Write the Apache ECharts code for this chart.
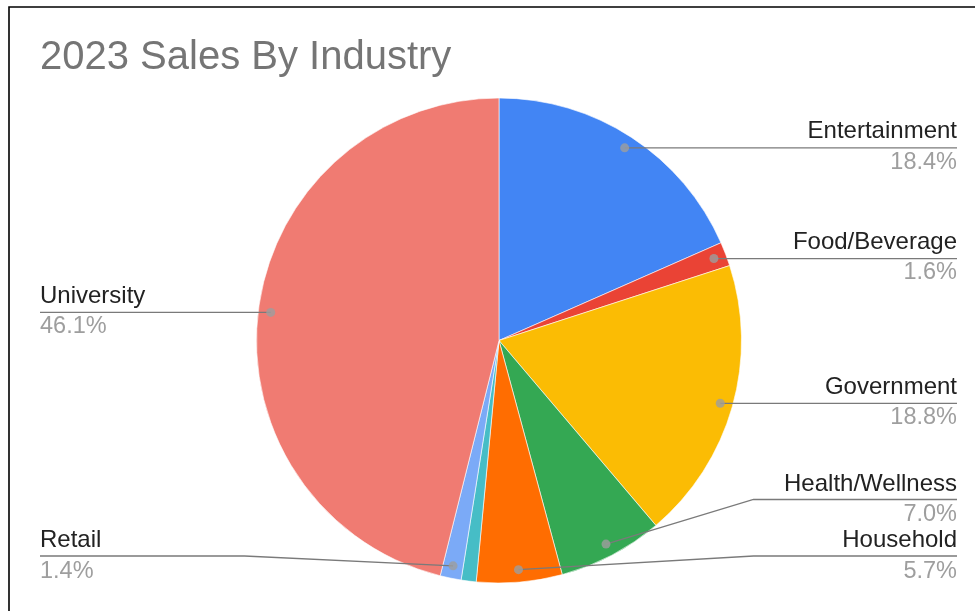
<!DOCTYPE html>
<html><head><meta charset="utf-8">
<script src="https://cdn.jsdelivr.net/npm/echarts@6/dist/echarts.min.js"></script>
<style>html,body{margin:0;padding:0;background:#fff}#chart{width:975px;height:611px}</style>
</head><body><div id="chart"></div>
<script>
const chartTitle = '2023 Sales By Industry';
const categories = ['Entertainment', 'Food/Beverage', 'Government', 'Health/Wellness', 'Household', 'Other', 'Retail', 'University'];
const values = [18.4, 1.6, 18.8, 7.0, 5.7, 1.0, 1.4, 46.1];
const colors = ['#4285F4', '#EA4335', '#FBBC04', '#34A853', '#FF6D01', '#46BDC6', '#7BAAF7', '#F07B72'];
const labelGroupA = ['Entertainment', 'Food/Beverage', 'Government'];
const labelGroupB = ['Health/Wellness', 'Household', 'Retail', 'University'];

const FONT = "'Liberation Sans', Arial, sans-serif";
const CX = 499, CY = 340.5, R = 242.5, DOT_R = 230;
const VIEW_LEFT = 22;

const total = values.reduce((a, b) => a + b, 0);
const cumMid = [];
let acc = 0;
values.forEach(v => { cumMid.push(acc + v / 2); acc += v; });
const labeled = categories.map((c, i) => i).filter(i => labelGroupA.includes(categories[i]) || labelGroupB.includes(categories[i]));

function leaderLayout(params) {
  const pts = params.labelLinePoints;
  if (!pts || !pts.length) return {};
  const p0 = pts[0];
  const rect = params.labelRect;
  const y = rect.y + rect.height / 2;
  const right = params.align === 'right';
  const edgeX = right ? rect.x + rect.width : rect.x;
  if (Math.abs(y - p0[1]) < 1.5) {
    return { labelLinePoints: [p0, [edgeX, p0[1]]] };
  }
  const bendX = right ? CX + R + 12 : CX - R - 12;
  return { labelLinePoints: [p0, [bendX, y], [edgeX, y]] };
}

function labelPie(names, bottom) {
  return {
    type: 'pie', silent: true, z: 3,
    left: VIEW_LEFT, right: 0, top: 0, bottom: bottom,
    center: [CX - VIEW_LEFT, CY], radius: DOT_R,
    startAngle: 90, clockwise: true, percentPrecision: 1,
    avoidLabelOverlap: true,
    itemStyle: { color: 'rgba(0,0,0,0)', borderWidth: 0 },
    emphasis: { disabled: true },
    label: {
      show: true, position: 'outer', alignTo: 'edge', edgeDistance: 18,
      distanceToLabelLine: 5,
      formatter: p => '{n|' + p.name + '}\n{p|' + p.percent.toFixed(1) + '%}',
      rich: {
        n: { fontFamily: FONT, fontSize: 24, color: '#222222', lineHeight: 22.5, height: 10, padding: [0, 0, 10, 0] },
        p: { fontFamily: FONT, fontSize: 23.5, color: '#9e9e9e', lineHeight: 22.5, height: 10, padding: [6, 0, 0, 0] }
      }
    },
    labelLine: { show: true, length: 0, length2: 10, lineStyle: { color: '#7a7a7a', width: 1.3 } },
    labelLayout: leaderLayout,
    data: categories.map((c, i) => ({
      name: c, value: values[i],
      label: { show: names.includes(c) },
      labelLine: { show: names.includes(c) }
    }))
  };
}

const chart = echarts.init(document.getElementById('chart'), null, { renderer: 'canvas' });
chart.setOption({
  animation: false,
  backgroundColor: '#ffffff',
  title: {
    text: chartTitle, left: 40, top: 38, padding: 0,
    textStyle: { fontFamily: FONT, fontSize: 40, lineHeight: 40, fontWeight: 'normal', color: '#757575' }
  },
  graphic: [{
    type: 'rect', silent: true, z: 0,
    shape: { x: 9, y: 7, width: 1200, height: 900 },
    style: { fill: 'none', stroke: '#000000', lineWidth: 1.6 }
  }],
  polar: { center: [CX, CY], radius: R },
  angleAxis: { type: 'value', min: 0, max: total, startAngle: 90, clockwise: true, show: false },
  radiusAxis: { type: 'value', min: 0, max: R, show: false },
  series: [
    {
      type: 'pie', silent: true, z: 2,
      left: VIEW_LEFT, right: 0, top: 0, bottom: 0,
      center: [CX - VIEW_LEFT, CY], radius: R,
      startAngle: 90, clockwise: true,
      label: { show: false }, labelLine: { show: false },
      emphasis: { disabled: true },
      itemStyle: { borderColor: '#ffffff', borderWidth: 0.6 },
      data: categories.map((c, i) => ({ name: c, value: values[i], itemStyle: { color: colors[i] } }))
    },
    labelPie(labelGroupA, 0),
    labelPie(labelGroupB, 26.75),
    {
      type: 'scatter', coordinateSystem: 'polar', silent: true, z: 6,
      symbol: 'circle', symbolSize: 9,
      itemStyle: { color: '#9e9e9e' },
      data: labeled.map(i => [DOT_R, cumMid[i]])
    }
  ]
});
</script>
</body></html>
